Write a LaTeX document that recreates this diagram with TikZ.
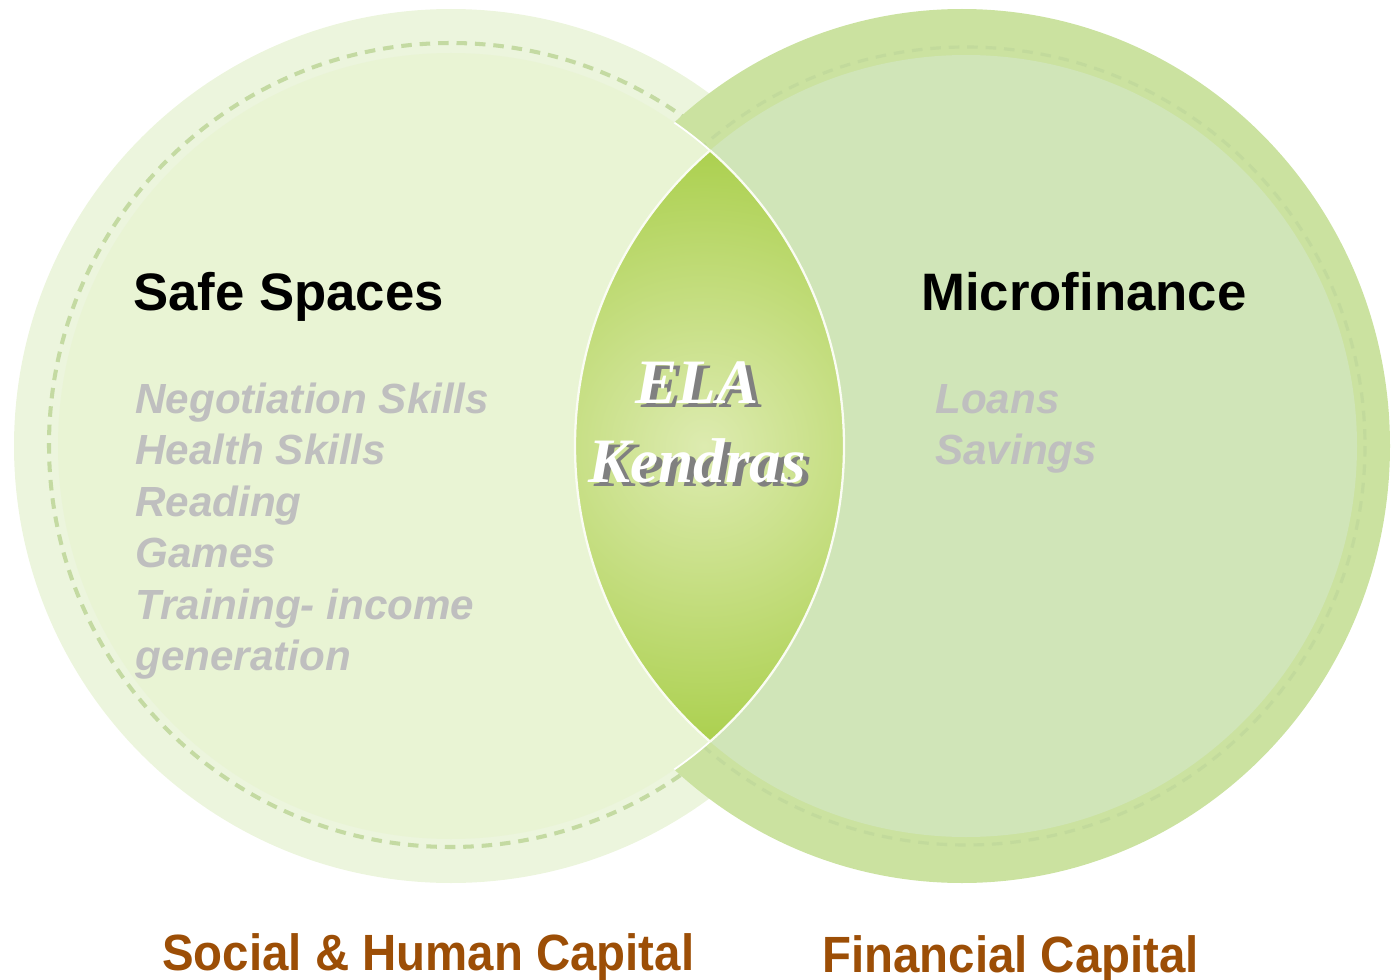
\documentclass[tikz,border=0pt]{standalone}
\usepackage{fontspec}
\setmainfont{Liberation Sans}
\newfontfamily\elafont{Liberation Serif}

\definecolor{leftband}{HTML}{ECF5DD}
\definecolor{leftfill}{HTML}{E9F4D4}
\definecolor{leftdash}{HTML}{C4DAA2}
\definecolor{rightband}{HTML}{CBE2A0}
\definecolor{rightfill}{HTML}{D0E5B8}
\definecolor{rightdash}{HTML}{C2DA9C}
\definecolor{lensgreen}{HTML}{A6CD44}
\definecolor{lenslight}{HTML}{DDEBB0}
\definecolor{itemgray}{HTML}{BFBFBF}
\definecolor{capbrown}{HTML}{9C4E06}

\begin{document}
\begin{tikzpicture}
  [x=0.02cm,y=-0.02cm,
   headtext/.style={font=\bfseries\fontsize{30}{36}\selectfont,text=black,inner sep=0pt,anchor=base west},
   itemtext/.style={font=\bfseries\itshape\fontsize{24}{29}\selectfont,text=itemgray,inner sep=0pt,anchor=base west},
   captext/.style={font=\bfseries\fontsize{29}{34}\selectfont,text=capbrown,inner sep=0pt,anchor=base west,xscale=0.93,transform shape},
   elatext/.style={font=\elafont\bfseries\itshape\fontsize{36}{44}\selectfont,inner sep=0pt,anchor=base}]
  \useasboundingbox (0,0) rectangle (1394,980);

  % left circle
  \fill[leftband] (451,446) circle (437);
  \draw[leftdash,line width=2.3pt,dash pattern=on 6pt off 4.5pt] (451,445) circle (402);

  % right circle, outer band
  \fill[rightband] (962,446) ellipse [x radius=428,y radius=437];
  \draw[rightdash,line width=1.8pt,dash pattern=on 6pt off 4.5pt] (966,446) circle (399);

  % inner discs
  \fill[leftfill] (451,446) circle (393);
  \begin{scope}
    \clip (962,446) ellipse [x radius=428,y radius=437];
    \draw[white,line width=1pt] (451,446) circle (393);
  \end{scope}
  \fill[rightfill] (966,446) circle (391);

  % overlap
  \begin{scope}
    \clip (451,446) circle (393);
    \clip (966,446) circle (391);
    \shade[inner color=lenslight,outer color=lensgreen] (704,446) circle (330);
  \end{scope}
  \begin{scope}
    \clip (451,446) circle (393);
    \draw[white!85!lenslight,line width=1.3pt] (966,446) circle (391);
  \end{scope}
  \begin{scope}
    \clip (966,446) circle (391);
    \draw[white!85!lenslight,line width=1.3pt] (451,446) circle (393);
  \end{scope}

  \node[elatext,text=gray] (elash) at (703,407) {ELA};
  \node[elatext,text=white] (ela) at (697,403) {ELA};
  \node[elatext,text=gray] (kendrassh) at (703,486) {Kendras};
  \node[elatext,text=white] (kendras) at (697,482) {Kendras};

  % headings and lists
  \node[headtext] (safe) at (133,310) {Safe Spaces};
  \node[headtext] (micro) at (921,310) {Microfinance};

  \foreach \item [count=\i from 0] in {Negotiation Skills,Health Skills,Reading,Games,Training- income,generation}
    \node[itemtext] (skill\i) at (135,413+51.5*\i) {\item};

  \node[itemtext] (loans) at (935,413) {Loans};
  \node[itemtext] (savings) at (935,464.5) {Savings};

  \node[captext] (social) at (162,970) {Social \& Human Capital};
  \node[captext] (financial) at (822,972) {Financial Capital};
\end{tikzpicture}
\end{document}
